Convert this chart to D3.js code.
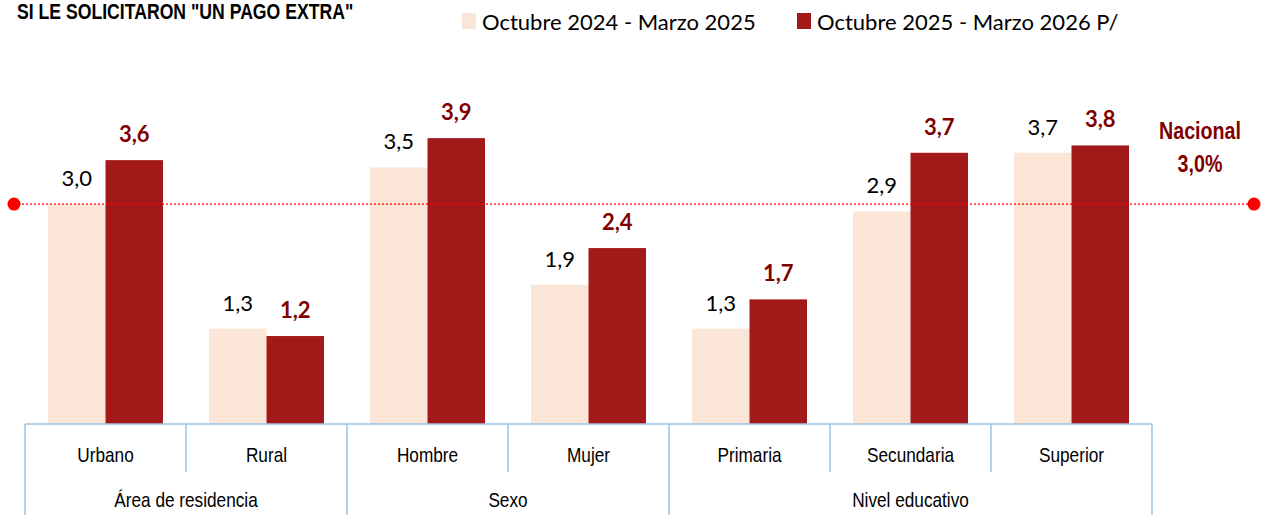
<!DOCTYPE html>
<html>
<head>
<meta charset="utf-8">
<script src="https://cdn.jsdelivr.net/npm/d3@7"></script>
<style>
  body { margin: 0; background: #fff; }
  .narrow { font-family: "Liberation Sans", Arial, sans-serif; }
  .soft { font-family: Lato, "Open Sans", sans-serif; }
</style>
</head>
<body>
<div id="chart"></div>
<script>
var categories = ["Urbano", "Rural", "Hombre", "Mujer", "Primaria", "Secundaria", "Superior"];
var groups = ["Área de residencia", "Área de residencia", "Sexo", "Sexo", "Nivel educativo", "Nivel educativo", "Nivel educativo"];
var series = ["Octubre 2024 - Marzo 2025", "Octubre 2025 - Marzo 2026 P/"];
var values2025 = [3.0, 1.3, 3.5, 1.9, 1.3, 2.9, 3.7];
var values2026 = [3.6, 1.2, 3.9, 2.4, 1.7, 3.7, 3.8];
var nacional = 3.0;

var width = 1263, height = 515;
var colors = ["#FBE5D6", "#A31919"];
var labelColor = "#800000";

var svg = d3.select("#chart").append("svg")
    .attr("width", width)
    .attr("height", height);

var fmt = d3.formatLocale({decimal: ",", thousands: ".", grouping: [3], currency: ["", ""]}).format(".1f");

// no narrow font installed, so squeeze a normal one
function narrowText(parent, x, y, size, txt) {
    return parent.append("text").attr("class", "narrow")
        .attr("transform", "translate(" + x + "," + y + ") scale(0.82,1)")
        .attr("text-anchor", "middle")
        .attr("font-size", size)
        .attr("fill", "#000")
        .text(txt);
}

var x0 = d3.scaleBand().domain(categories).range([25, 1152]).padding(0);
var x1 = d3.scaleBand().domain(series).range([0, x0.bandwidth()]).paddingInner(0).paddingOuter(0.4);
var y = d3.scaleLinear().domain([0, 5]).range([424, 57.5]);

var data = categories.map(function(c, i) {
    return {cat: c, vals: [values2025[i], values2026[i]]};
});

// bars
var g = svg.append("g");
data.forEach(function(d) {
    d.vals.forEach(function(v, j) {
        var bx = x0(d.cat) + x1(series[j]);
        g.append("rect")
            .attr("x", bx)
            .attr("y", y(v))
            .attr("width", x1.bandwidth())
            .attr("height", y(0) - y(v))
            .attr("fill", colors[j]);
        g.append("text")
            .attr("class", "soft")
            .attr("x", bx + x1.bandwidth() / 2)
            .attr("y", y(v) - 18)
            .attr("text-anchor", "middle")
            .attr("font-size", 22)
            .attr("font-weight", j == 1 ? "bold" : "normal")
            .attr("fill", j == 1 ? labelColor : "#000")
            .text(fmt(v));
    });
});

// national line
var ny = y(nacional);
svg.append("line")
    .attr("x1", 14).attr("x2", 1254)
    .attr("y1", ny).attr("y2", ny)
    .attr("stroke", "#FF0000")
    .attr("stroke-width", 1.3)
    .attr("stroke-dasharray", "2,2");
[14, 1254].forEach(function(cx) {
    svg.append("circle").attr("cx", cx).attr("cy", ny).attr("r", 6.5).attr("fill", "#FF0000");
});
narrowText(svg, 1200, 139, 24, "Nacional")
    .attr("font-weight", "bold").attr("fill", labelColor);
narrowText(svg, 1200, 172, 24, fmt(nacional) + "%")
    .attr("font-weight", "bold").attr("fill", labelColor);

// axis
var axisColor = "#9DC3E6";
var axis = svg.append("g");
axis.append("line")
    .attr("x1", x0.range()[0]).attr("x2", x0.range()[1])
    .attr("y1", 424).attr("y2", 424)
    .attr("stroke", axisColor).attr("stroke-width", 1.5);

categories.forEach(function(c, i) {
    var left = x0(c);
    var isGroupStart = i == 0 || groups[i] != groups[i - 1];
    axis.append("line")
        .attr("x1", left).attr("x2", left)
        .attr("y1", 424).attr("y2", isGroupStart ? height : 472)
        .attr("stroke", axisColor).attr("stroke-width", 1.5);
    narrowText(axis, left + x0.bandwidth() / 2, 462, 21, c);
});
axis.append("line")
    .attr("x1", x0.range()[1]).attr("x2", x0.range()[1])
    .attr("y1", 424).attr("y2", height)
    .attr("stroke", axisColor).attr("stroke-width", 1.5);

// group labels
var groupNames = Array.from(new Set(groups));
groupNames.forEach(function(gn) {
    var cats = categories.filter(function(c, i) { return groups[i] == gn; });
    var gx0 = x0(cats[0]);
    var gx1 = x0(cats[cats.length - 1]) + x0.bandwidth();
    narrowText(axis, (gx0 + gx1) / 2, 507, 21, gn);
});

// title
narrowText(svg, 17, 19, 21.5, 'SI LE SOLICITARON "UN PAGO EXTRA"')
    .attr("text-anchor", "start")
    .attr("font-weight", "bold");

// legend
var legendX = [462, 797];
series.forEach(function(s, j) {
    svg.append("rect")
        .attr("x", legendX[j]).attr("y", 13)
        .attr("width", 14).attr("height", 16)
        .attr("fill", colors[j]);
    svg.append("text").attr("class", "soft")
        .attr("x", legendX[j] + 20).attr("y", 30)
        .attr("font-size", 22)
        .attr("fill", "#000")
        .text(s);
});
</script>
</body>
</html>
